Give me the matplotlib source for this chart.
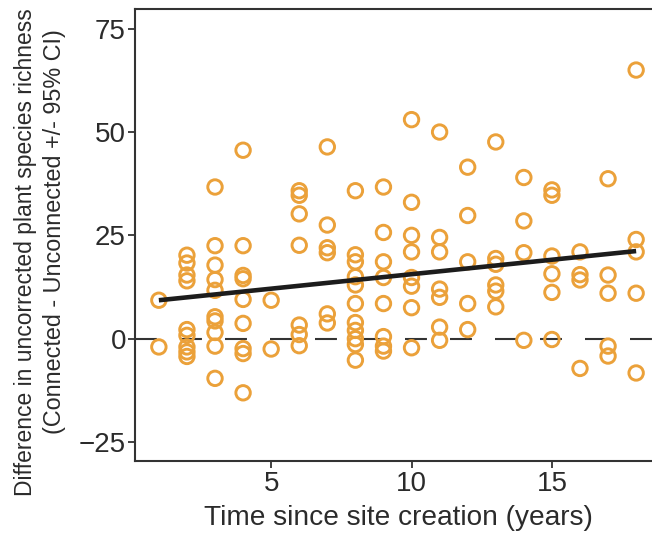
import matplotlib
matplotlib.use("Agg")
import matplotlib.pyplot as plt
import numpy as np

# ---- data ----
site_age = (
    [1] * 2 + [2] * 9 + [3] * 10 + [4] * 9 + [5] * 2 + [6] * 7 + [7] * 6 +
    [8] * 11 + [9] * 8 + [10] * 8 + [11] * 7 + [12] * 5 + [13] * 6 +
    [14] * 4 + [15] * 6 + [16] * 4 + [17] * 5 + [18] * 5
)
richness_diff = (
    [9.3, -2.0] +
    [20.2, 18.3, 15.4, 14.0, 2.2, 0.8, -2.0, -3.2, -4.3] +
    [36.7, 22.5, 17.8, 14.3, 11.7, 5.3, 4.3, 1.5, -1.8, -9.6] +
    [45.6, 22.5, 15.3, 14.5, 9.5, 3.7, -2.4, -3.6, -13.1] +
    [9.3, -2.5] +
    [35.8, 34.7, 30.2, 22.6, 3.3, 1.0, -1.7] +
    [46.4, 27.5, 22.0, 20.8, 6.0, 3.8] +
    [35.8, 20.3, 18.6, 15.0, 13.0, 8.5, 3.9, 2.0, 0.0, -1.4, -5.2] +
    [36.7, 25.7, 18.6, 14.8, 8.5, 0.5, -1.8, -3.0] +
    [53.0, 33.0, 25.0, 21.0, 14.8, 12.7, 7.5, -2.2] +
    [50.0, 24.5, 21.0, 12.0, 10.0, 2.8, -0.4] +
    [41.5, 29.8, 18.6, 8.5, 2.2] +
    [47.6, 19.4, 18.0, 13.0, 11.5, 7.7] +
    [39.0, 28.5, 20.8, -0.4] +
    [36.0, 34.7, 20.0, 15.7, 11.2, -0.2] +
    [21.0, 15.5, 14.2, -7.2] +
    [38.7, 15.4, 11.0, -1.8, -4.2] +
    [65.0, 24.0, 21.0, 11.0, -8.3]
)
fit_intercept = 8.6
fit_slope = 0.70

x_ticks = [5, 10, 15]
y_ticks = [-25, 0, 25, 50, 75]
x_label = "Time since site creation (years)"
y_label_1 = "Difference in uncorrected plant species richness"
y_label_2 = "(Connected - Unconnected +/- 95% CI)"

# ---- styling ----
plt.rcParams['font.family'] = ['Liberation Sans', 'DejaVu Sans']
text_col = '#2b2b2b'
pt_col = '#EBA13A'

W, H = 652, 535
fig = plt.figure(figsize=(W / 100, H / 100), dpi=100)
left_px, right_px, top_px, bot_px = 135, 660, 9.3, 461
ax = fig.add_axes([left_px / W, 1 - bot_px / H,
                   (right_px - left_px) / W, (bot_px - top_px) / H])

x = np.array(site_age, dtype=float)
y = np.array(richness_diff, dtype=float)

lw0 = 1.5
ax.axhline(0, color='#333333', lw=lw0,
           linestyle=(0, (15.8 / lw0, 16.6 / lw0)), zorder=1)

ax.scatter(x, y, s=108, facecolors='none', edgecolors=pt_col,
           linewidths=2.1, zorder=2)

xf = np.array([x.min(), x.max()])
ax.plot(xf, fit_intercept + fit_slope * xf, color='#1c1c1c', lw=3.3,
        solid_capstyle='butt', zorder=3)

ax.set_xlim(0.15, 18.85)
ax.set_ylim(-29.6, 79.7)
ax.set_xticks(x_ticks)
ax.set_yticks(y_ticks)

for side in ['left', 'bottom', 'top']:
    ax.spines[side].set_color('#333333')
    ax.spines[side].set_linewidth(1.5)
ax.spines['right'].set_visible(False)

ax.tick_params(axis='both', colors='#333333', labelcolor=text_col,
               labelsize=20, length=5, width=1.3)
ax.tick_params(axis='x', pad=2)
ax.tick_params(axis='y', pad=1.5)

ax.set_xlabel(x_label, fontsize=20.2, color=text_col)
ax.xaxis.set_label_coords((398 - left_px) / (right_px - left_px),
                          -(518 - bot_px) / (bot_px - top_px))
ax.xaxis.label.set_va('center')

fig.text(26 / W, 1 - 252 / H, y_label_1, rotation=90, ha='center',
         va='center', fontsize=16.5, color=text_col)
fig.text(55 / W, 1 - 232 / H, y_label_2, rotation=90, ha='center',
         va='center', fontsize=16.8, color=text_col)

fig.savefig('out.png', dpi=100)
